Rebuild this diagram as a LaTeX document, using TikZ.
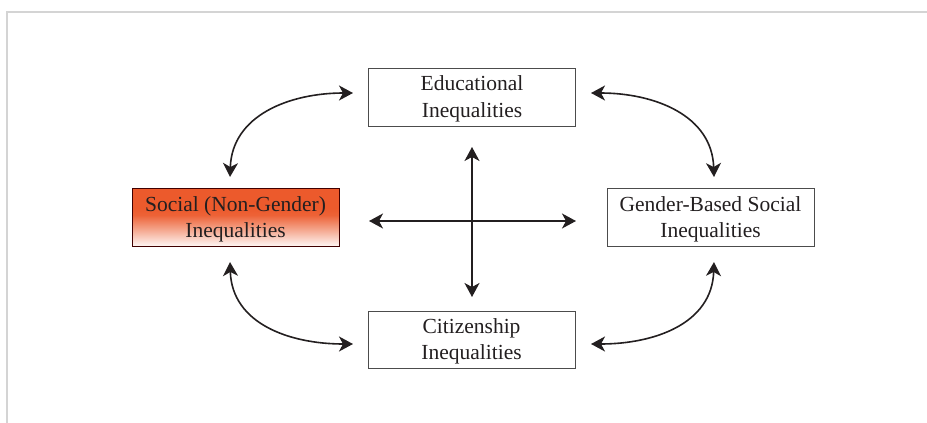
\documentclass[tikz,border=0pt]{standalone}
\usepackage{fontspec}
\setmainfont{Liberation Serif}
\usetikzlibrary{arrows.meta,calc}
\definecolor{socorange}{HTML}{EC5A2C}
\definecolor{inkc}{HTML}{231F20}
\pgfdeclareverticalshading{socshade}{100bp}{color(0bp)=(white); color(25bp)=(socorange!4!white); color(40bp)=(socorange!55!white); color(52bp)=(socorange!95!white); color(58bp)=(socorange); color(100bp)=(socorange)}
\begin{document}
\begin{tikzpicture}[x=1pt,y=-1pt,
  box/.style={draw=black!70, line width=0.8pt, minimum width=207pt, minimum height=58pt,
    inner sep=0pt, align=center, text=inkc, text depth=0.8pt, font=\fontsize{21.5}{26.5}\selectfont},
  arr/.style={draw=inkc, line width=1.6pt,
    {Stealth[length=14pt,width=15pt,inset=4pt]}-{Stealth[length=14pt,width=15pt,inset=4pt]}},
  frame/.style={draw=black!17, line width=2pt}]
\useasboundingbox (0,0) rectangle (927,423);
\draw[frame] (7,423) -- (7,12) -- (927,12);

\node[box] (edu) at (472,97) {Educational\\Inequalities};
\node[box, draw=black!75!red, shading=socshade] (soc) at (235.5,217.5) {Social (Non-Gender)\\Inequalities};
\node[box] (gen) at (710.5,217.5) {Gender-Based Social\\Inequalities};
\node[box, minimum height=57pt] (cit) at (471.5,339.5) {Citizenship\\Inequalities};

\coordinate (socT) at (230,177);
\coordinate (socB) at (230,262);
\coordinate (genT) at (714,177);
\coordinate (genB) at (714,262);
\coordinate (eduL) at (353,93);
\coordinate (eduR) at (591,93);
\coordinate (citL) at (353,344);
\coordinate (citR) at (591,344);
\coordinate (cU) at (472,147);
\coordinate (cD) at (472,297);
\coordinate (cL) at (369,221);
\coordinate (cR) at (576,221);

\draw[arr] (socT) .. controls +(2,-62) and +(-63,0) .. (eduL);
\draw[arr] (eduR) .. controls +(63,0) and +(-2,-62) .. (genT);
\draw[arr] (socB) .. controls +(2,62) and +(-63,0) .. (citL);
\draw[arr] (citR) .. controls +(63,0) and +(-2,62) .. (genB);
\draw[arr] (cU) -- (cD);
\draw[arr] (cL) -- (cR);
\end{tikzpicture}
\end{document}
